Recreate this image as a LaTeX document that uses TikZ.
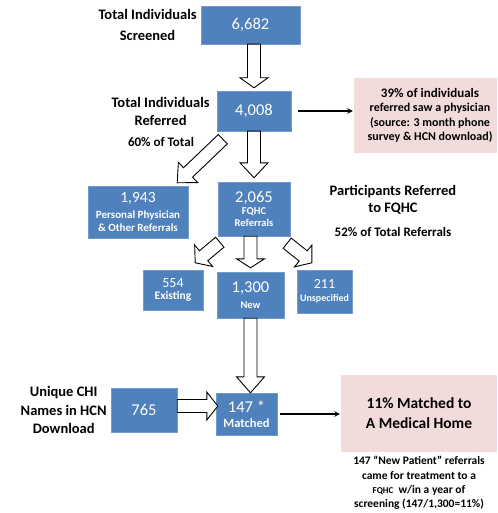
\documentclass[tikz,border=0pt]{standalone}
\usepackage{fontspec}
\setmainfont{Carlito}
\usetikzlibrary{calc, positioning}
\definecolor{boxblue}{HTML}{4F81BD}
\definecolor{notepink}{HTML}{F2DCDB}
\newcommand{\bignum}{\mdseries\fontsize{16.5}{18}\selectfont}
\newcommand{\midnum}{\mdseries\fontsize{14}{15}\selectfont}
\newcommand{\drawBlockArrow}[3][12pt]{%
  \coordinate (ba-t) at #2;
  \coordinate (ba-p) at #3;
  \coordinate (ba-h) at ($(ba-p)!#1!(ba-t)$);
  \draw[blockarrow] ($(ba-t)!6.5pt!90:(ba-p)$) -- ($(ba-h)!6.5pt!90:(ba-p)$)
    -- ($(ba-h)!14pt!90:(ba-p)$) -- (ba-p) -- ($(ba-h)!14pt!-90:(ba-p)$)
    -- ($(ba-h)!6.5pt!-90:(ba-p)$) -- ($(ba-t)!6.5pt!-90:(ba-p)$) -- cycle;}
\tikzset{
    numbox/.style={rectangle,fill=boxblue,draw=boxblue!80!white,text=white,align=center,inner sep=0pt,
        font=\bfseries\fontsize{10.5}{12.5}\selectfont},
    notebox/.style={rectangle,fill=notepink,align=center,inner sep=0pt},
    lbl/.style={align=center,inner sep=0pt,font=\bfseries\fontsize{14.5}{18}\selectfont},
    smalllbl/.style={align=center,inner sep=0pt,font=\bfseries\fontsize{13}{15}\selectfont},
    blockarrow/.style={draw=black,fill=white,line width=0.9pt,line join=miter},
    link/.style={-stealth,line width=1.4pt,shorten >=1pt}}
\begin{document}
\begin{tikzpicture}[x=1pt,y=-1pt]
\clip (0,0) rectangle (497,513);
% number boxes
\node[numbox,minimum width=99pt,minimum height=38pt]  (n6682) at (250.5,25)  {\bignum 6,682};
\node[numbox,minimum width=74pt,minimum height=40pt]  (n4008) at (254,111)   {\bignum 4,008};
\node[numbox,minimum width=100pt,minimum height=52pt,font=\bfseries\fontsize{11}{13}\selectfont] (n1943) at (138,212)
    {\mdseries\fontsize{15.5}{17}\selectfont 1,943\\[3pt]Personal Physician\\\& Other Referrals};
\node[numbox,minimum width=72pt,minimum height=54pt]  (n2065) at (254,209)   {\bignum 2,065\\[-1pt]FQHC\\Referrals};
\node[numbox,minimum width=60pt,minimum height=40pt,font=\bfseries\fontsize{11.5}{13}\selectfont] (n554) at (173,290)
    {\midnum 554\\[-1pt]Existing};
\node[numbox,minimum width=67pt,minimum height=46pt]  (n1300) at (250.5,295) {\bignum 1,300\\[3pt]New};
\node[numbox,minimum width=55pt,minimum height=43pt,font=\bfseries\fontsize{10}{12}\selectfont] (n211) at (324.5,291.5)
    {\midnum 211\\[1pt]Unspecified};
\node[numbox,minimum width=66pt,minimum height=44pt]  (n765)  at (144,410)   {\bignum 765};
\node[numbox,minimum width=61pt,minimum height=42pt,font=\bfseries\fontsize{12.5}{14}\selectfont] (n147) at (246.5,414)
    {\bignum 147 *\\[1pt]Matched};
% notes
\node[notebox,minimum width=152pt,minimum height=75pt,font=\bfseries\fontsize{12}{14.3}\selectfont] (note39) at (430,115.5)
    {\fontsize{13}{14.5}\selectfont 39\% of individuals\\referred saw a physician\\(source: 3 month phone\\survey \& HCN download)};
\node[notebox,minimum width=156pt,minimum height=77pt,font=\bfseries\fontsize{15.5}{20}\selectfont] (home) at (419,413.5)
    {11\% Matched to\\A Medical Home};
\node[align=center,inner sep=0pt,font=\bfseries\fontsize{11.5}{14.3}\selectfont] (homenote) [below=4pt of home]
    {147 ``New Patient'' referrals\\came for treatment to a\\{\fontsize{9}{10}\selectfont FQHC}\ \ w/in a year of\\screening (147/1,300=11\%)};
% labels
\node[lbl,font=\bfseries\fontsize{14.5}{21}\selectfont] (screened) [left=4pt of n6682] {Total Individuals\\Screened};
\node[lbl] (referred) [left=7pt of n4008] {Total Individuals\\Referred};
\node[smalllbl] (pct60) at (161,142) {60\% of Total};
\node[lbl,font=\bfseries\fontsize{14.5}{17.5}\selectfont] (fqhc) at (393,200) {Participants Referred\\to FQHC};
\node[smalllbl] (pct52) at (393,232) {52\% of Total Referrals};
\node[lbl,font=\bfseries\fontsize{14.5}{18.5}\selectfont] (chi) [left=4pt of n765] {Unique CHI\\Names in HCN\\Download};
% block arrows
\drawBlockArrow[10pt]{(n4008 |- n6682.south)}{($(n4008.north)+(0,-3)$)}
\drawBlockArrow[15pt]{(n4008.south)}{($(n2065.north)+(0,-4)$)}
\drawBlockArrow[15pt]{($(n4008.south west)+(6,8)$)}{($(n1943.north east)+(-11,-3)$)}
\drawBlockArrow[11pt]{($(n2065.south west)+(2,6)$)}{($(n554.north east)+(-8,-7)$)}
\drawBlockArrow[9pt]{(n1300 |- n2065.south)}{($(n1300.north)+(0,-4)$)}
\drawBlockArrow[11pt]{($(n2065.south east)+(-3,7)$)}{($(n211.north west)+(15,-7)$)}
\drawBlockArrow[16pt]{(n1300.south)}{(n1300 |- n147.north)}
\drawBlockArrow[11pt]{($(n765.east)+(0,-4)$)}{($(n147.west)+(2,-8)$)}
% links
\draw[link,shorten <=7pt] (n4008.east) -- (n4008.east -| note39.west);
\draw[link,shorten <=3pt] (n147.east) -- (n147.east -| home.west);
\end{tikzpicture}
\end{document}
